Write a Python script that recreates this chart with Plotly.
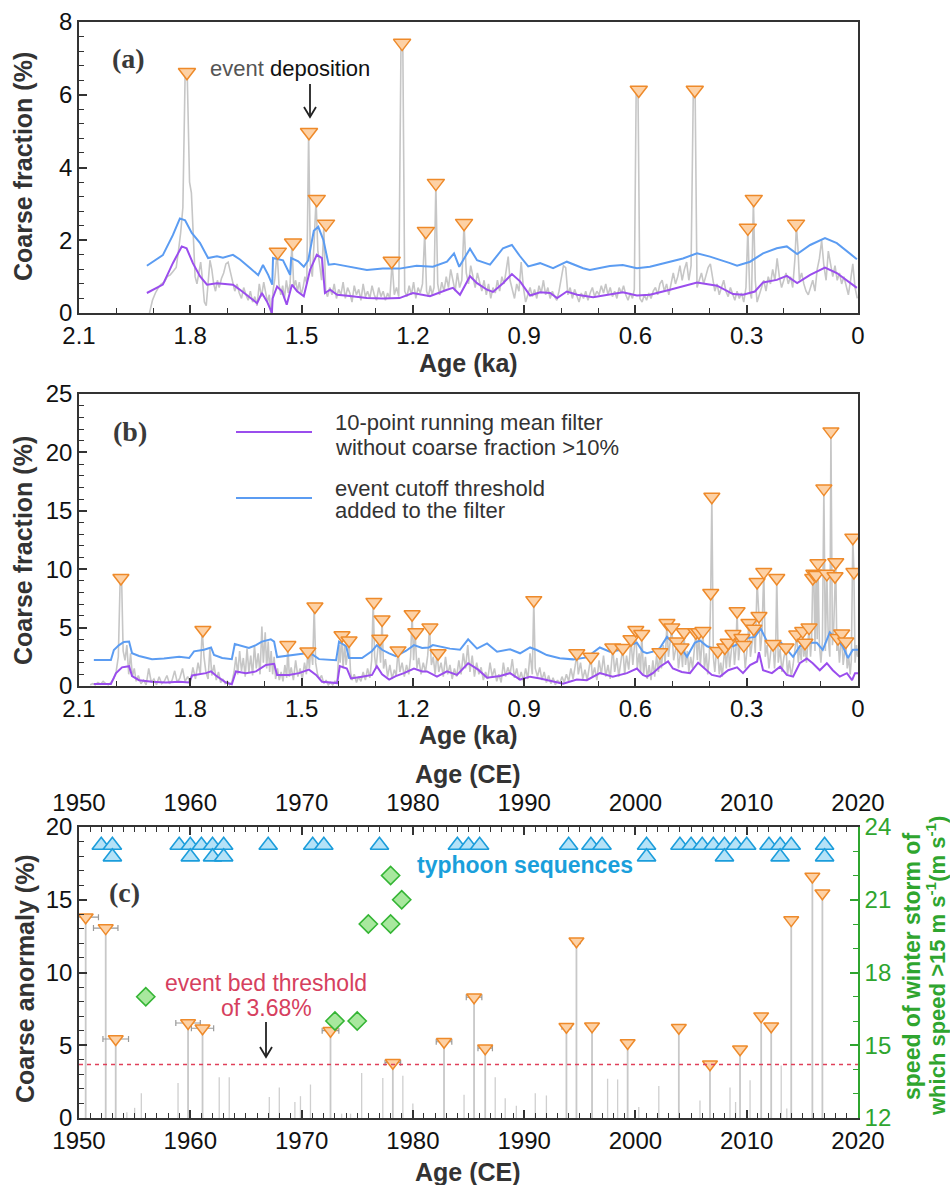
import plotly.graph_objects as go

# ---------------- DATA ----------------
x_ticks_ka = [2.1, 1.8, 1.5, 1.2, 0.9, 0.6, 0.3, 0]
x_ticktext_ka = ["2.1", "1.8", "1.5", "1.2", "0.9", "0.6", "0.3", "0"]

# Panel (a): raw coarse fraction (age ka, %)
a_raw = [(1.910,0.00),(1.902,0.35),(1.894,0.55),(1.886,0.70),(1.878,0.80),(1.870,0.85),(1.862,1.00),(1.854,1.05),
(1.846,1.15),(1.838,1.25),(1.832,1.70),(1.826,2.20),(1.820,2.90),(1.814,6.50),(1.808,6.45),(1.802,3.60),(1.797,3.30),
(1.792,2.00),(1.787,1.00),(1.782,0.80),(1.777,1.10),(1.772,1.40),(1.767,0.90),(1.762,0.30),(1.757,0.20),(1.752,0.90),
(1.747,1.45),(1.742,1.20),(1.737,0.80),(1.732,0.60),(1.727,0.90),(1.722,0.70),(1.716,0.95),(1.710,1.10),(1.704,1.35),
(1.698,1.40),(1.692,1.10),(1.686,0.85),(1.680,0.60),(1.674,0.80),(1.668,0.55),(1.662,0.40),(1.656,0.70),(1.650,0.50),
(1.644,0.35),(1.638,0.60),(1.632,0.30),(1.626,0.45),(1.620,0.20),(1.614,0.80),(1.608,0.45),(1.602,0.85),(1.597,0.55),
(1.592,0.30),(1.587,0.50),(1.582,-0.10),(1.577,0.60),(1.572,0.95),(1.566,1.68),(1.561,0.80),(1.556,0.50),(1.551,0.75),
(1.546,0.40),(1.541,0.90),(1.536,0.55),(1.531,0.80),(1.526,1.90),(1.521,0.70),(1.516,0.90),(1.511,0.60),(1.506,0.85),
(1.501,0.50),(1.496,0.70),(1.491,1.00),(1.486,0.80),(1.481,4.95),(1.476,1.30),(1.471,1.00),(1.466,2.00),(1.461,3.10),
(1.456,1.70),(1.451,1.20),(1.446,0.90),(1.440,2.40),(1.435,0.60),(1.430,0.45),(1.424,0.70),(1.418,0.50),(1.412,0.80),
(1.406,0.40),(1.400,0.65),(1.394,0.50),(1.388,0.85),(1.382,0.40),(1.376,0.70),(1.370,0.55),(1.364,0.30),(1.358,0.75),
(1.352,0.50),(1.346,0.65),(1.340,0.35),(1.334,0.80),(1.328,0.45),(1.322,0.60),(1.316,0.40),(1.310,0.75),(1.304,0.50),
(1.298,0.35),(1.292,0.70),(1.286,0.45),(1.280,0.60),(1.274,0.35),(1.268,0.55),(1.262,0.40),(1.256,1.40),(1.250,0.50),
(1.244,0.70),(1.238,0.45),(1.232,7.40),(1.227,7.30),(1.222,0.60),(1.216,0.45),(1.210,0.75),(1.204,0.50),(1.198,0.85),
(1.192,0.40),(1.186,0.70),(1.180,0.55),(1.174,0.80),(1.168,2.20),(1.163,0.60),(1.158,0.45),(1.153,0.75),(1.148,0.50),
(1.143,0.70),(1.138,3.55),(1.133,0.80),(1.128,0.50),(1.122,0.85),(1.116,0.60),(1.110,1.00),(1.104,0.70),(1.098,1.20),
(1.092,0.90),(1.086,0.60),(1.080,1.10),(1.074,0.70),(1.068,0.90),(1.062,2.45),(1.056,1.10),(1.050,0.80),(1.044,1.30),
(1.038,1.00),(1.032,0.70),(1.026,1.10),(1.020,0.85),(1.014,0.60),(1.008,0.90),(1.002,0.50),(0.996,0.80),(0.990,0.40),
(0.984,0.70),(0.978,0.55),(0.972,0.90),(0.966,0.60),(0.960,1.00),(0.954,0.80),(0.948,1.20),(0.943,1.55),(0.938,0.90),
(0.932,0.60),(0.926,0.40),(0.920,0.80),(0.914,0.60),(0.908,1.40),(0.902,0.70),(0.896,0.30),(0.890,0.50),(0.884,0.70),
(0.878,0.45),(0.872,0.65),(0.866,0.40),(0.860,0.75),(0.854,0.55),(0.848,0.90),(0.842,0.50),(0.836,0.70),(0.830,0.40),
(0.824,0.60),(0.818,0.45),(0.812,0.35),(0.806,0.60),(0.800,0.90),(0.794,1.30),(0.788,1.25),(0.782,0.50),(0.776,0.70),
(0.770,0.40),(0.764,0.65),(0.758,0.45),(0.752,0.30),(0.746,0.55),(0.740,0.40),(0.734,0.60),(0.728,0.35),(0.722,0.55),
(0.716,0.70),(0.710,0.45),(0.704,0.60),(0.698,0.50),(0.692,0.75),(0.686,0.55),(0.680,0.80),(0.674,0.50),(0.668,0.70),
(0.662,0.45),(0.656,0.60),(0.650,0.40),(0.644,0.70),(0.638,0.55),(0.632,0.75),(0.626,0.50),(0.620,0.35),(0.614,0.55),
(0.608,0.40),(0.603,0.65),(0.598,6.10),(0.593,6.05),(0.588,0.40),(0.582,0.30),(0.576,0.50),(0.570,0.35),(0.564,0.55),
(0.558,0.40),(0.552,0.60),(0.546,0.70),(0.540,0.50),(0.534,0.80),(0.528,0.90),(0.522,0.60),(0.516,0.80),(0.510,0.50),
(0.504,0.85),(0.498,1.10),(0.492,0.80),(0.486,1.00),(0.480,1.30),(0.474,0.90),(0.468,1.20),(0.462,1.40),(0.456,0.90),
(0.450,1.30),(0.444,6.10),(0.439,6.05),(0.434,0.70),(0.428,0.90),(0.422,1.10),(0.416,0.80),(0.410,1.00),(0.404,1.25),
(0.398,1.35),(0.392,0.90),(0.386,0.60),(0.380,0.80),(0.374,0.50),(0.368,0.70),(0.362,0.90),(0.356,0.60),(0.350,0.45),
(0.344,0.70),(0.338,0.50),(0.332,0.35),(0.326,0.60),(0.320,0.40),(0.314,0.55),(0.308,0.30),(0.302,0.70),(0.297,2.30),
(0.292,0.60),(0.287,0.40),(0.282,3.10),(0.277,0.90),(0.272,0.30),(0.266,0.50),(0.260,0.70),(0.254,0.90),(0.248,0.60),
(0.242,1.00),(0.236,0.80),(0.230,1.20),(0.224,0.90),(0.218,1.50),(0.212,1.00),(0.206,0.70),(0.200,0.90),(0.194,1.10),
(0.188,0.80),(0.182,1.00),(0.176,0.70),(0.170,1.50),(0.166,2.40),(0.162,1.80),(0.158,0.90),(0.152,1.10),(0.146,0.80),
(0.140,0.60),(0.134,0.50),(0.128,0.70),(0.122,0.90),(0.116,0.60),(0.110,1.20),(0.104,1.50),(0.098,2.00),(0.092,1.30),
(0.086,0.90),(0.080,1.70),(0.074,1.40),(0.068,1.00),(0.062,1.30),(0.056,0.90),(0.050,1.10),(0.044,0.80),(0.038,1.00),
(0.032,0.70),(0.026,0.50),(0.020,0.90),(0.014,1.35),(0.008,0.70),(0.002,0.40)]

a_filter = [(1.917,0.55),(1.874,0.78),(1.847,1.37),(1.823,1.83),(1.810,1.78),(1.793,1.37),(1.774,1.01),(1.755,0.78),
(1.728,0.82),(1.685,0.78),(1.666,0.64),(1.620,0.27),(1.607,0.55),(1.593,0.31),(1.580,0.00),(1.578,0.40),(1.566,0.73),
(1.553,0.60),(1.540,0.23),(1.526,0.78),(1.512,0.60),(1.494,0.46),(1.477,1.19),(1.459,1.60),(1.445,1.51),(1.437,0.55),
(1.423,0.64),(1.404,0.50),(1.370,0.47),(1.324,0.41),(1.280,0.40),(1.236,0.41),(1.200,0.55),(1.154,0.46),(1.108,0.64),
(1.092,0.69),(1.073,0.50),(1.046,1.01),(1.027,0.82),(1.000,0.64),(0.984,0.58),(0.957,0.82),(0.933,1.07),(0.911,0.87),
(0.884,0.48),(0.857,0.57),(0.830,0.55),(0.811,0.41),(0.785,0.59),(0.757,0.50),(0.714,0.43),(0.669,0.52),(0.634,0.57),
(0.596,0.48),(0.561,0.50),(0.507,0.64),(0.472,0.73),(0.434,0.84),(0.380,0.75),(0.337,0.52),(0.310,0.50),(0.278,0.59),
(0.256,0.84),(0.219,0.91),(0.192,1.02),(0.164,0.82),(0.129,1.05),(0.089,1.25),(0.057,1.10),(0.003,0.69)]

a_threshold = [(1.917,1.30),(1.874,1.59),(1.847,2.14),(1.828,2.60),(1.814,2.55),(1.796,2.20),(1.774,1.93),(1.752,1.51),
(1.728,1.56),(1.712,1.52),(1.685,1.60),(1.666,1.47),(1.639,1.24),(1.617,1.04),(1.604,1.32),(1.590,1.05),(1.579,0.78),
(1.577,1.51),(1.550,1.45),(1.531,1.05),(1.528,1.51),(1.509,1.42),(1.494,1.27),(1.482,1.45),(1.467,2.26),(1.455,2.37),
(1.441,2.00),(1.427,1.33),(1.412,1.35),(1.367,1.27),(1.324,1.18),(1.281,1.22),(1.236,1.22),(1.190,1.30),(1.146,1.27),
(1.108,1.41),(1.089,1.64),(1.075,1.27),(1.046,1.77),(1.027,1.45),(0.992,1.33),(0.957,1.78),(0.933,1.87),(0.911,1.56),
(0.889,1.28),(0.857,1.37),(0.822,1.23),(0.785,1.41),(0.741,1.23),(0.723,1.18),(0.669,1.29),(0.634,1.32),(0.596,1.23),
(0.561,1.27),(0.507,1.41),(0.472,1.50),(0.434,1.64),(0.399,1.55),(0.345,1.37),(0.326,1.30),(0.291,1.41),(0.256,1.64),
(0.219,1.78),(0.192,1.83),(0.164,1.62),(0.129,1.87),(0.089,2.06),(0.057,1.92),(0.003,1.48)]

a_event_age = [1.809, 1.564, 1.523, 1.480, 1.459, 1.434, 1.257, 1.229, 1.165, 1.138, 1.062, 0.591, 0.440, 0.297, 0.281, 0.167]
a_event_val = [6.62, 1.68, 1.93, 4.97, 3.13, 2.45, 1.43, 7.42, 2.25, 3.57, 2.47, 6.13, 6.13, 2.34, 3.13, 2.45]

# Panel (b)
b_raw = [(2.070,0.1),(2.063,0.2),(2.056,0.1),(2.049,0.3),(2.042,0.15),(2.035,0.4),(2.028,0.2),(2.021,0.1),(2.014,0.3),
(2.007,0.6),(2.000,1.2),(1.994,2.5),(1.989,9.2),(1.985,9.0),(1.981,3.0),(1.976,2.2),(1.971,3.5),(1.966,1.0),(1.961,2.8),
(1.956,0.8),(1.951,1.5),(1.946,0.4),(1.940,0.9),(1.933,0.2),(1.926,0.5),(1.919,0.1),(1.912,1.5),(1.905,0.3),(1.898,0.6),
(1.891,0.1),(1.884,0.8),(1.877,0.2),(1.870,0.4),(1.863,0.9),(1.856,0.2),(1.849,0.5),(1.842,1.3),(1.835,0.3),(1.828,0.7),
(1.821,1.5),(1.814,0.4),(1.807,0.8),(1.800,0.3),(1.793,1.6),(1.786,0.6),(1.779,2.0),(1.773,1.0),(1.768,4.8),(1.763,2.5),
(1.758,1.2),(1.752,0.6),(1.747,3.3),(1.742,0.9),(1.736,1.8),(1.730,0.5),(1.724,1.2),(1.718,0.3),(1.712,0.6),(1.706,0.2),
(1.700,0.4),(1.694,0.1),(1.688,0.3),(1.682,1.2),(1.677,2.5),(1.672,1.0),(1.667,3.0),(1.662,1.3),(1.657,2.4),(1.652,0.8),
(1.647,3.2),(1.642,1.2),(1.637,2.6),(1.632,0.9),(1.627,3.5),(1.622,1.5),(1.617,2.8),(1.612,1.0),(1.607,5.1),(1.603,2.0),
(1.598,4.6),(1.594,1.5),(1.590,3.8),(1.586,1.2),(1.582,3.0),(1.578,1.0),(1.574,2.5),(1.570,0.6),(1.565,1.5),(1.560,0.5),
(1.555,1.2),(1.550,0.4),(1.545,1.8),(1.540,0.7),(1.537,3.5),(1.533,0.8),(1.528,1.6),(1.522,0.5),(1.516,2.2),(1.510,0.8),
(1.504,1.5),(1.498,0.6),(1.492,2.0),(1.487,1.0),(1.483,2.95),(1.479,1.5),(1.475,3.3),(1.470,1.8),(1.466,6.8),(1.462,2.0),
(1.457,1.0),(1.452,0.6),(1.446,0.9),(1.440,0.2),(1.434,0.5),(1.428,0.1),(1.422,0.3),(1.416,0.1),(1.410,0.4),(1.404,0.2),
(1.399,3.5),(1.396,2.0),(1.392,4.35),(1.388,1.5),(1.384,3.6),(1.380,1.8),(1.376,3.2),(1.372,3.9),(1.368,1.2),(1.364,0.5),
(1.358,1.0),(1.352,0.3),(1.346,0.8),(1.340,0.4),(1.334,1.2),(1.328,0.5),(1.322,1.5),(1.316,0.7),(1.311,2.2),(1.307,7.2),
(1.303,2.5),(1.299,1.5),(1.295,3.0),(1.291,4.05),(1.287,2.0),(1.283,5.7),(1.279,1.5),(1.274,2.3),(1.268,0.8),(1.262,1.8),
(1.256,0.6),(1.250,1.4),(1.245,0.9),(1.240,3.05),(1.235,1.2),(1.229,2.0),(1.223,0.8),(1.217,1.8),(1.211,1.0),(1.206,2.5),
(1.202,6.15),(1.198,2.2),(1.194,4.6),(1.189,1.5),(1.184,2.4),(1.178,1.0),(1.172,2.0),(1.166,1.2),(1.160,2.6),(1.155,5.0),
(1.150,1.8),(1.145,2.5),(1.140,1.0),(1.135,2.8),(1.130,1.2),(1.124,2.0),(1.118,0.8),(1.112,2.5),(1.106,1.0),(1.100,1.8),
(1.094,0.6),(1.088,1.5),(1.082,0.8),(1.076,2.2),(1.070,1.0),(1.064,2.8),(1.058,1.5),(1.052,3.5),(1.046,1.2),(1.040,2.6),
(1.034,0.8),(1.028,2.0),(1.022,1.0),(1.016,1.6),(1.010,0.5),(1.004,1.2),(0.998,0.6),(0.992,2.0),(0.986,0.8),(0.980,1.5),
(0.974,0.4),(0.968,1.0),(0.962,0.3),(0.956,2.0),(0.950,0.8),(0.944,1.6),(0.938,1.0),(0.932,2.3),(0.926,0.7),(0.920,1.5),
(0.914,0.5),(0.908,1.2),(0.902,0.4),(0.896,1.5),(0.890,0.6),(0.884,2.8),(0.878,1.0),(0.874,7.35),(0.870,1.5),(0.864,0.8),
(0.858,1.6),(0.852,0.5),(0.846,1.2),(0.840,0.3),(0.834,0.9),(0.828,0.2),(0.822,0.7),(0.816,0.1),(0.810,0.5),(0.804,0.2),
(0.798,0.8),(0.792,0.3),(0.786,1.0),(0.780,0.4),(0.774,1.5),(0.768,0.6),(0.762,1.8),(0.758,2.8),(0.754,1.0),(0.748,2.0),
(0.742,0.6),(0.736,1.4),(0.730,0.5),(0.724,1.8),(0.720,2.5),(0.716,0.8),(0.710,1.6),(0.704,0.5),(0.698,2.2),(0.692,1.0),
(0.686,2.6),(0.680,0.8),(0.674,1.8),(0.668,0.6),(0.661,3.3),(0.656,1.2),(0.650,2.4),(0.645,0.8),(0.639,2.0),(0.634,3.25),
(0.629,1.0),(0.624,2.6),(0.618,1.4),(0.612,4.0),(0.607,1.8),(0.603,3.0),(0.599,4.8),(0.595,1.5),(0.590,2.8),(0.586,1.2),
(0.583,4.45),(0.578,1.0),(0.573,2.5),(0.568,0.6),(0.563,1.8),(0.558,0.5),(0.553,2.2),(0.548,0.8),(0.543,2.6),(0.538,1.2),
(0.534,2.9),(0.530,1.5),(0.525,3.5),(0.520,2.0),(0.515,5.4),(0.511,2.5),(0.506,3.8),(0.502,5.0),(0.497,2.2),(0.492,3.0),
(0.488,3.8),(0.484,1.5),(0.480,2.6),(0.477,3.3),(0.473,1.6),(0.469,4.6),(0.465,1.8),(0.460,3.0),(0.456,1.2),(0.451,2.5),
(0.446,1.5),(0.441,3.5),(0.437,4.6),(0.433,2.2),(0.429,4.6),(0.425,1.8),(0.421,3.2),(0.418,4.7),(0.414,1.5),(0.409,2.8),
(0.405,1.0),(0.401,2.4),(0.397,7.96),(0.394,16.2),(0.390,2.5),(0.386,1.2),(0.382,2.8),(0.378,3.0),(0.374,1.0),(0.370,2.0),
(0.366,0.8),(0.362,2.6),(0.359,3.3),(0.355,1.5),(0.350,3.7),(0.346,1.6),(0.341,3.0),(0.337,4.45),(0.333,1.8),(0.329,3.2),
(0.326,6.4),(0.322,2.2),(0.318,3.5),(0.313,4.1),(0.308,3.5),(0.304,1.5),(0.299,3.2),(0.294,5.4),(0.290,2.5),(0.285,3.8),
(0.281,4.9),(0.277,2.8),(0.272,8.9),(0.267,6.0),(0.263,3.0),(0.259,4.5),(0.254,9.75),(0.250,2.5),(0.245,3.5),(0.240,1.5),
(0.235,3.0),(0.229,3.6),(0.225,1.5),(0.222,3.0),(0.219,9.25),(0.215,2.0),(0.210,3.2),(0.205,1.2),(0.200,2.4),(0.194,3.3),
(0.190,1.0),(0.185,2.2),(0.180,0.8),(0.175,1.8),(0.170,3.0),(0.165,4.4),(0.161,2.0),(0.157,3.5),(0.153,2.2),(0.149,4.7),
(0.146,2.5),(0.143,3.7),(0.139,2.0),(0.135,3.5),(0.132,5.0),(0.128,2.5),(0.125,4.0),(0.122,9.25),(0.119,9.6),(0.116,3.0),
(0.113,9.5),(0.110,4.0),(0.108,10.5),(0.104,3.5),(0.100,2.0),(0.096,3.8),(0.092,16.9),(0.088,3.0),(0.084,9.6),(0.080,4.0),
(0.076,2.5),(0.073,21.8),(0.069,3.5),(0.066,4.5),(0.062,9.4),(0.060,10.6),(0.057,3.0),(0.054,4.1),(0.050,2.0),(0.047,3.2),
(0.044,4.5),(0.040,1.8),(0.036,3.0),(0.033,3.8),(0.029,1.5),(0.025,2.5),(0.021,1.0),(0.018,2.2),(0.014,12.7),(0.011,9.75),
(0.008,2.0),(0.004,3.5),(0.001,2.5)]

b_filter = [(2.060,0.17),(2.014,0.17),(2.000,1.10),(1.984,1.60),(1.965,1.70),(1.957,0.85),(1.938,0.50),(1.903,0.37),
(1.866,0.30),(1.830,0.37),(1.803,0.30),(1.795,0.90),(1.758,1.10),(1.744,1.25),(1.731,0.90),(1.704,0.30),(1.688,0.15),
(1.677,1.25),(1.650,1.10),(1.623,1.25),(1.596,1.80),(1.574,1.90),(1.566,0.95),(1.534,0.95),(1.507,1.10),(1.480,1.40),
(1.461,0.95),(1.445,0.37),(1.404,0.25),(1.397,1.70),(1.378,1.50),(1.367,0.65),(1.337,0.80),(1.310,0.95),(1.297,1.70),
(1.283,1.00),(1.264,0.55),(1.246,0.85),(1.224,1.10),(1.197,1.50),(1.175,1.25),(1.162,1.25),(1.135,0.80),(1.108,1.25),
(1.081,0.95),(1.051,1.95),(1.024,1.40),(1.000,0.70),(0.965,0.85),(0.938,1.10),(0.911,0.55),(0.884,0.80),(0.857,0.65),
(0.822,0.40),(0.795,0.20),(0.758,0.55),(0.731,0.50),(0.696,1.10),(0.661,0.80),(0.623,1.10),(0.596,1.50),(0.580,0.95),
(0.569,0.80),(0.553,1.10),(0.534,1.65),(0.512,2.10),(0.499,1.50),(0.475,1.20),(0.453,1.10),(0.431,2.00),(0.413,1.50),
(0.394,0.95),(0.372,0.80),(0.350,1.35),(0.326,1.60),(0.310,1.10),(0.291,1.80),(0.272,2.10),(0.267,2.90),(0.256,1.35),
(0.232,1.10),(0.210,1.65),(0.192,0.95),(0.175,0.80),(0.157,1.95),(0.138,2.35),(0.122,1.95),(0.103,1.35),(0.084,1.95),
(0.068,1.35),(0.049,0.80),(0.030,1.10),(0.016,0.50),(0.008,1.10),(0.000,1.10)]

b_threshold = [(2.060,2.23),(2.014,2.23),(2.006,3.08),(1.992,3.50),(1.979,3.77),(1.965,3.80),(1.957,2.80),(1.938,2.57),
(1.903,2.30),(1.871,2.35),(1.830,2.50),(1.803,2.40),(1.790,2.97),(1.763,3.10),(1.744,3.30),(1.736,2.65),(1.714,2.40),
(1.688,2.30),(1.680,3.60),(1.660,3.40),(1.642,3.25),(1.623,3.50),(1.607,3.80),(1.583,4.00),(1.574,3.80),(1.566,2.48),
(1.542,2.57),(1.515,2.65),(1.488,2.80),(1.471,2.70),(1.453,2.30),(1.407,2.20),(1.399,3.80),(1.380,3.40),(1.372,2.40),
(1.337,2.40),(1.310,3.00),(1.297,3.50),(1.283,3.10),(1.264,2.80),(1.246,2.55),(1.219,3.00),(1.197,3.50),(1.175,3.25),
(1.157,3.30),(1.146,3.50),(1.119,3.30),(1.100,3.20),(1.073,3.10),(1.051,4.00),(1.027,3.20),(1.000,3.65),(0.973,2.94),
(0.938,3.14),(0.911,2.80),(0.884,3.30),(0.866,3.08),(0.839,2.65),(0.804,2.37),(0.768,2.28),(0.731,2.45),(0.696,3.30),
(0.669,2.94),(0.642,3.08),(0.615,3.50),(0.596,3.70),(0.580,2.94),(0.569,2.80),(0.553,2.94),(0.534,3.25),(0.515,4.20),
(0.499,3.70),(0.480,3.40),(0.461,2.50),(0.440,3.70),(0.426,3.90),(0.407,3.40),(0.394,3.25),(0.372,3.00),(0.353,3.70),
(0.337,3.40),(0.318,3.70),(0.299,4.10),(0.278,4.20),(0.262,4.90),(0.245,3.80),(0.229,3.40),(0.210,3.80),(0.192,3.10),
(0.175,2.50),(0.157,3.40),(0.138,3.70),(0.111,3.70),(0.095,3.10),(0.076,4.60),(0.057,3.90),(0.041,3.40),(0.027,2.40),
(0.014,3.10),(0.000,3.10)]

b_event_age = [1.987, 1.766, 1.537, 1.483, 1.464, 1.391, 1.372, 1.305, 1.289, 1.283, 1.240, 1.202, 1.192, 1.154, 1.132,
               0.874, 0.758, 0.720, 0.661, 0.634, 0.612, 0.599, 0.583, 0.534, 0.515, 0.502, 0.488, 0.477, 0.469, 0.437,
               0.429, 0.418, 0.397, 0.394, 0.378, 0.359, 0.350, 0.337, 0.326, 0.313, 0.308, 0.294, 0.281, 0.272, 0.267,
               0.254, 0.229, 0.219, 0.194, 0.165, 0.149, 0.143, 0.132, 0.122, 0.119, 0.113, 0.108, 0.092, 0.084, 0.073,
               0.062, 0.060, 0.054, 0.044, 0.033, 0.014, 0.011]
b_event_val = [9.25, 4.8, 3.5, 2.95, 6.8, 4.35, 3.9, 7.2, 4.05, 5.7, 3.05, 6.15, 4.6, 5.0, 2.8,
               7.35, 2.8, 2.5, 3.3, 3.25, 4.0, 4.8, 4.45, 2.9, 5.4, 5.0, 3.8, 3.3, 4.6, 4.6,
               4.6, 4.7, 7.96, 16.2, 3.0, 3.3, 3.7, 4.45, 6.4, 4.1, 3.5, 5.4, 4.9, 8.9, 6.0,
               9.75, 3.6, 9.25, 3.3, 4.4, 4.7, 3.7, 5.0, 9.25, 9.6, 9.5, 10.5, 16.9, 9.6, 21.8,
               9.4, 10.6, 4.1, 4.5, 3.8, 12.7, 9.75]

# Panel (c)
c_event_year = [1950.6, 1952.4, 1953.3, 1959.8, 1961.1, 1972.6, 1978.2, 1982.8, 1985.5, 1986.5, 1993.8, 1994.7,
                1996.1, 1999.3, 2003.9, 2006.7, 2009.4, 2011.3, 2012.2, 2014.0, 2015.9, 2016.8]
c_event_val = [13.8, 13.05, 5.43, 6.53, 6.17, 6.0, 3.8, 5.24, 8.3, 4.8, 6.27, 12.15,
               6.3, 5.16, 6.2, 3.7, 4.73, 7.0, 6.3, 13.6, 16.6, 15.45]
c_event_err = [1.15, 1.1, 1.15, 1.1, 1.0, 0.75, 0.7, 0.7, 0.7, 0.65, 0.4, 0.35,
               0.3, 0.2, 0.15, 0.1, 0.1, 0.05, 0.05, 0.0, 0.0, 0.0]
c_bg_year = [1954.3, 1955.0, 1955.6, 1958.9, 1962.6, 1963.5, 1967.1, 1968.0, 1969.4, 1969.9, 1970.8, 1973.6, 1974.4,
             1975.4, 1977.3, 1979.1, 1980.0, 1984.6, 1987.4, 1988.3, 1989.3, 1991.0, 1992.0, 1997.5, 1998.4, 2000.3,
             2002.1, 2005.8, 2008.5, 2009.0, 2010.3, 2013.1, 2013.6]
c_bg_val = [0.4, 0.7, 1.7, 2.4, 2.8, 2.8, 1.45, 2.1, 1.1, 1.5, 2.3, 0.3, 0.3,
            3.1, 2.75, 2.9, 1.0, 1.6, 2.8, 1.35, 0.85, 1.7, 1.55, 2.7, 2.65, 0.75,
            2.2, 1.2, 2.1, 1.1, 2.6, 3.6, 0.65]
event_bed_threshold = 3.68
typhoon_row1 = [1952, 1953, 1959, 1960, 1961, 1962, 1963, 1967, 1971, 1972, 1977, 1984, 1985, 1986, 1994, 1996, 1997,
                2001, 2004, 2005, 2006, 2007, 2008, 2009, 2010, 2012, 2013, 2014, 2017]
typhoon_row2 = [1953, 1960, 1962, 1963, 2001, 2008, 2013, 2017]
typhoon_row_level = [18.75, 17.95]
ws_year = [1956, 1973, 1975, 1976, 1978, 1978, 1979]
ws_speed = [17.0, 16.0, 16.0, 20.0, 20.0, 22.0, 21.0]
ce_ticks = [1950, 1960, 1970, 1980, 1990, 2000, 2010, 2020]
ce_range = [1950, 2020]

# ---------------- STYLE ----------------
W, H = 950, 1185
def P(x): return x / W
def Q(y): return 1 - y / H

GREY = "#c6c6c6"
PURPLE = "#9a4ded"
BLUE = "#5b9cf2"
OR_FILL = "#fdd1a5"
OR_LINE = "#ee8a2a"
AX = "#333333"
GREEN = "#2fa52f"
TFONT = dict(family="Liberation Sans, Arial", size=24, color="#111111")

xdom = [P(79), P(858)]
fig = go.Figure()

def split(pairs):
    return [p[0] for p in pairs], [p[1] for p in pairs]

# Panel (a)
ax_, ay_ = split(a_raw)
fig.add_trace(go.Scatter(x=ax_, y=ay_, mode="lines", line=dict(color=GREY, width=1.6), xaxis="x", yaxis="y", hoverinfo="skip"))
fx, fy = split(a_filter)
fig.add_trace(go.Scatter(x=fx, y=fy, mode="lines", line=dict(color=PURPLE, width=2), xaxis="x", yaxis="y"))
tx, ty = split(a_threshold)
fig.add_trace(go.Scatter(x=tx, y=ty, mode="lines", line=dict(color=BLUE, width=2), xaxis="x", yaxis="y"))
fig.add_trace(go.Scatter(x=a_event_age, y=a_event_val, mode="markers", xaxis="x", yaxis="y",
                         marker=dict(symbol="triangle-down", size=15, color=OR_FILL, line=dict(color=OR_LINE, width=1.5))))

# Panel (b)
bx, by = split(b_raw)
fig.add_trace(go.Scatter(x=bx, y=by, mode="lines", line=dict(color=GREY, width=1.6), xaxis="x2", yaxis="y2"))
fx, fy = split(b_filter)
fig.add_trace(go.Scatter(x=fx, y=fy, mode="lines", line=dict(color=PURPLE, width=2), xaxis="x2", yaxis="y2"))
tx, ty = split(b_threshold)
fig.add_trace(go.Scatter(x=tx, y=ty, mode="lines", line=dict(color=BLUE, width=2), xaxis="x2", yaxis="y2"))
fig.add_trace(go.Scatter(x=b_event_age, y=b_event_val, mode="markers", xaxis="x2", yaxis="y2",
                         marker=dict(symbol="triangle-down", size=14, color=OR_FILL, line=dict(color=OR_LINE, width=1.5))))

# Panel (c) stems
def stems(xs, ys):
    sx, sy = [], []
    for x, y in zip(xs, ys):
        sx += [x, x, None]
        sy += [0, y, None]
    return sx, sy
sx, sy = stems(c_bg_year, c_bg_val)
fig.add_trace(go.Scatter(x=sx, y=sy, mode="lines", line=dict(color="#cfcfcf", width=1.3), xaxis="x3", yaxis="y3"))
sx, sy = stems(c_event_year, c_event_val)
fig.add_trace(go.Scatter(x=sx, y=sy, mode="lines", line=dict(color="#c8c8c8", width=1.8), xaxis="x3", yaxis="y3"))
# threshold line drawn on the top CE axis (same scale) so that axis has data
fig.add_trace(go.Scatter(x=ce_range, y=[event_bed_threshold] * 2, mode="lines", xaxis="x4", yaxis="y3",
                         line=dict(color="#e0405a", width=1.6, dash="4px,4px")))
fig.add_trace(go.Scatter(x=c_event_year, y=c_event_val, mode="markers", xaxis="x3", yaxis="y3", cliponaxis=False,
                         error_x=dict(type="data", array=c_event_err, color="#9a9a9a", thickness=1.2, width=3),
                         marker=dict(symbol="triangle-down", size=13, color=OR_FILL, line=dict(color=OR_LINE, width=1.5))))
fig.add_trace(go.Scatter(x=typhoon_row1, y=[typhoon_row_level[0]] * len(typhoon_row1), mode="markers", xaxis="x3", yaxis="y3",
                         marker=dict(symbol="triangle-up", size=16, color="#b5e2f7", line=dict(color="#1b9ddb", width=1.6))))
fig.add_trace(go.Scatter(x=typhoon_row2, y=[typhoon_row_level[1]] * len(typhoon_row2), mode="markers", xaxis="x3", yaxis="y3",
                         marker=dict(symbol="triangle-up", size=16, color="#b5e2f7", line=dict(color="#1b9ddb", width=1.6))))
fig.add_trace(go.Scatter(x=ws_year, y=ws_speed, mode="markers", xaxis="x3", yaxis="y4",
                         marker=dict(symbol="diamond", size=14, color="#a8e89e", line=dict(color="#34b534", width=1.6))))

def xax(dom_anchor, **kw):
    d = dict(domain=xdom, anchor=dom_anchor, range=[2.1, 0], tickmode="array", tickvals=x_ticks_ka,
             ticktext=x_ticktext_ka, ticks="inside", ticklen=8, tickwidth=1.5, tickcolor=AX,
             minor=dict(tickmode="linear", tick0=0, dtick=0.1, ticks="inside", ticklen=5, tickcolor=AX, tickwidth=1.3),
             showline=True, linecolor=AX, linewidth=1.6, mirror=True, showgrid=False, zeroline=False,
             tickfont=TFONT, automargin=False)
    d.update(kw)
    return d

def yax(dom, anchor, rng, dt, mdt, **kw):
    d = dict(domain=dom, anchor=anchor, range=rng, tickmode="linear", tick0=0, dtick=dt, ticks="inside",
             ticklen=8, tickwidth=1.5, tickcolor=AX,
             minor=dict(tickmode="linear", tick0=0, dtick=mdt, ticks="inside", ticklen=5, tickcolor=AX, tickwidth=1.3),
             showline=True, linecolor=AX, linewidth=1.6, mirror=True, showgrid=False, zeroline=False, tickfont=TFONT,
             automargin=False)
    d.update(kw)
    return d

cex = dict(domain=xdom, range=ce_range, tickmode="array", tickvals=ce_ticks, ticks="inside", ticklen=8,
           tickwidth=1.5, tickcolor=AX,
           minor=dict(tickmode="linear", tick0=1950, dtick=1, ticks="inside", ticklen=5, tickcolor=AX, tickwidth=1.3),
           showline=True, linecolor=AX, linewidth=1.6, showgrid=False, zeroline=False, tickfont=TFONT,
           automargin=False)

fig.update_layout(
    width=W, height=H, margin=dict(l=0, r=0, t=0, b=0, autoexpand=False), paper_bgcolor="white", plot_bgcolor="white",
    showlegend=False,
    xaxis=xax("y"),
    yaxis=yax([Q(313), Q(22)], "x", [0, 8], 2, 0.4),
    xaxis2=xax("y2"),
    yaxis2=yax([Q(686), Q(394)], "x2", [0, 25], 5, 1),
    xaxis3=dict(anchor="y3", side="bottom", **cex),
    xaxis4=dict(anchor="y3", overlaying="x3", side="top", ticklabelstandoff=5, **cex),
    yaxis3=yax([Q(1118), Q(827)], "x3", [0, 20], 5, 1, mirror=False),
    yaxis4=dict(domain=[Q(1118), Q(827)], anchor="x3", overlaying="y3", side="right", range=[12, 24],
                tickmode="linear", tick0=12, dtick=3, ticks="inside", ticklen=8, tickwidth=1.5, tickcolor=GREEN,
                minor=dict(tickmode="linear", tick0=12, dtick=1, ticks="inside", ticklen=5, tickcolor=GREEN, tickwidth=1.3),
                showline=True, linecolor=GREEN, linewidth=1.6, showgrid=False, zeroline=False, automargin=False,
                tickfont=dict(family="Liberation Sans, Arial", size=24, color=GREEN)),
)

anns = []
def ann(text, x, y, size=23, color="#222222", family="Liberation Sans, Arial", angle=0, xanchor="center"):
    anns.append(dict(text=text, x=P(x), y=Q(y), xref="paper", yref="paper", showarrow=False, textangle=angle,
                     xanchor=xanchor, yanchor="middle", font=dict(family=family, size=size, color=color)))

SERIF = "Liberation Serif, Times New Roman"
ann("<b>(a)</b>", 128, 59, 28, "#3a3a3a", SERIF)
ann("<b>(b)</b>", 130, 431, 28, "#3a3a3a", SERIF)
ann("<b>(c)</b>", 124, 892, 28, "#3a3a3a", SERIF)
ann("<span style='color:#555555'>event</span> deposition", 290, 69, 22, "#111111")
ann("<b>Coarse fraction (%)</b>", 23, 167, 25, "#333333", angle=-90)
ann("<b>Coarse fraction (%)</b>", 23, 551, 25, "#333333", angle=-90)
ann("<b>Coarse anormaly (%)</b>", 25, 979, 25, "#333333", angle=-90)
ann("<b>Age (ka)</b>", 468, 363, 25, "#333333")
ann("<b>Age (ka)</b>", 468, 735, 25, "#333333")
ann("<b>Age (CE)</b>", 468, 774, 25, "#333333")
ann("<b>Age (CE)</b>", 468, 1172, 25, "#333333")
ann("<b>speed of winter storm of</b>", 912, 967, 23, GREEN, angle=-90)
ann("<b>which speed >15 m s<sup>-1</sup>(m s<sup>-1</sup>)</b>", 936, 966, 22, GREEN, angle=-90)
ann("10-point running mean filter", 333, 422, 22, "#333333", xanchor="left")
ann("without coarse fraction >10%", 333, 447, 22, "#333333", xanchor="left")
ann("event cutoff threshold", 333, 488, 22, "#333333", xanchor="left")
ann("added to the filter", 333, 511, 22, "#333333", xanchor="left")
ann("<b>typhoon sequences</b>", 525, 865, 23, "#1a9fdb")
ann("event bed threshold", 266, 983, 23, "#d6405e")
ann("of 3.68%", 266, 1008, 23, "#d6405e")
fig.update_layout(annotations=anns)

shapes = [
    dict(type="line", xref="paper", yref="paper", x0=P(236), x1=P(312), y0=Q(432), y1=Q(432), line=dict(color=PURPLE, width=2)),
    dict(type="line", xref="paper", yref="paper", x0=P(236), x1=P(312), y0=Q(498), y1=Q(498), line=dict(color=BLUE, width=2)),
]
# arrows (shaft + open V head)
for (x, ytail, yhead) in [(310, 84, 117), (266, 1022, 1057)]:
    shapes.append(dict(type="line", xref="paper", yref="paper", x0=P(x), x1=P(x), y0=Q(ytail), y1=Q(yhead),
                       line=dict(color="#222222", width=1.8)))
    shapes.append(dict(type="path", xref="paper", yref="paper",
                       path=f"M {P(x-6)},{Q(yhead-10)} L {P(x)},{Q(yhead)} L {P(x+6)},{Q(yhead-10)}",
                       line=dict(color="#222222", width=1.8)))
fig.update_layout(shapes=shapes)

fig.write_html("out.html", config={"displayModeBar": False},
               post_script="document.body.style.margin='0px';")
